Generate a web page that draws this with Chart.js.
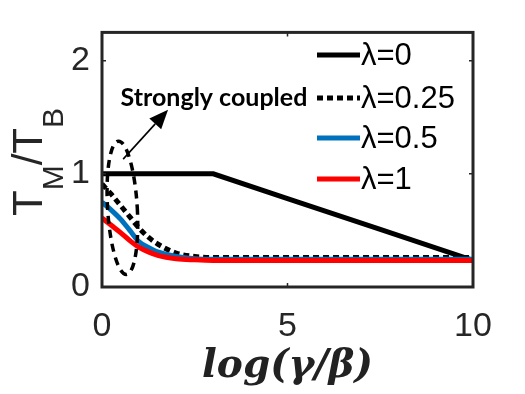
<!DOCTYPE html>
<html>
<head>
<meta charset="utf-8">
<script src="https://cdn.jsdelivr.net/npm/chart.js@4.4.0/dist/chart.umd.min.js"></script>
<style>
  html, body { margin: 0; padding: 0; background: #fff; }
  #wrap { width: 525px; height: 394px; }
</style>
</head>
<body>
<div id="wrap"><canvas id="chart" width="525" height="394"></canvas></div>
<script>
'use strict';

// data
const labels = ['\u03bb=0', '\u03bb=0.25', '\u03bb=0.5', '\u03bb=1'];
const xFlat = [0, 3, 5, 7.5, 10];
const yLam0 = [1, 1, 0.78, 0.51, 0.235];
const xCurve = [0, 0.25, 0.5, 0.75, 1, 1.25, 1.5, 2, 2.5, 3, 10];
const yLam025 = [0.91, 0.82, 0.72, 0.62, 0.52, 0.44, 0.38, 0.30, 0.27, 0.26, 0.26];
const yLam05 = [0.75, 0.68, 0.60, 0.50, 0.40, 0.35, 0.31, 0.27, 0.25, 0.245, 0.245];
const yLam1 = [0.61, 0.545, 0.48, 0.41, 0.35, 0.31, 0.28, 0.25, 0.24, 0.235, 0.235];
const xTicks = [0, 5, 10];
const yTicks = [0, 1, 2];

function pairs(xs, ys) {
  return xs.map((x, i) => ({x: x, y: ys[i]}));
}

const axisColor = '#262626';

// box, inner ticks, legend, note and y title
const extras = {
  id: 'extras',
  afterDatasetsDraw(chart) {
    const ctx = chart.ctx;
    const a = chart.chartArea;
    const xs = chart.scales.x;
    const ys = chart.scales.y;
    const px = v => xs.getPixelForValue(v);
    const py = v => ys.getPixelForValue(v);
    ctx.save();

    // dashed ellipse round the strong coupling region
    ctx.strokeStyle = '#000';
    ctx.lineWidth = 3.5;
    ctx.setLineDash([8, 6]);
    ctx.beginPath();
    ctx.ellipse(px(0.55), py(0.70), px(0.40) - px(0), py(0) - py(0.59), -0.06, 0, Math.PI * 2);
    ctx.stroke();
    ctx.setLineDash([]);

    // arrow
    const x1 = px(0.57), y1 = py(1.13), x2 = px(1.78), y2 = py(1.566);
    const ang = Math.atan2(y2 - y1, x2 - x1);
    const hl = 19, hw = 8;
    const bx = x2 - hl * Math.cos(ang), by = y2 - hl * Math.sin(ang);
    ctx.lineWidth = 1.6;
    ctx.beginPath();
    ctx.moveTo(x1, y1);
    ctx.lineTo(bx, by);
    ctx.stroke();
    ctx.fillStyle = '#000';
    ctx.beginPath();
    ctx.moveTo(x2, y2);
    ctx.lineTo(bx + hw * Math.sin(ang), by - hw * Math.cos(ang));
    ctx.lineTo(bx - hw * Math.sin(ang), by + hw * Math.cos(ang));
    ctx.closePath();
    ctx.fill();

    ctx.font = 'bold 25px Lato';
    ctx.textBaseline = 'alphabetic';
    ctx.textAlign = 'left';
    ctx.fillText('Strongly coupled', px(0.50), py(1.60));

    // legend
    ctx.font = '31px "Liberation Sans", Arial';
    ctx.textBaseline = 'middle';
    const rows = [55, 98, 138, 179];
    chart.data.datasets.forEach((ds, i) => {
      ctx.strokeStyle = ds.borderColor;
      ctx.lineWidth = 5;
      ctx.setLineDash(ds.borderDash || []);
      ctx.beginPath();
      ctx.moveTo(317, rows[i]);
      ctx.lineTo(360, rows[i]);
      ctx.stroke();
      ctx.setLineDash([]);
      ctx.fillStyle = '#000';
      ctx.fillText(ds.label, 361, rows[i] + 1);
    });

    // axes box with inward ticks
    ctx.strokeStyle = axisColor;
    ctx.lineWidth = 3;
    ctx.strokeRect(a.left, a.top, a.right - a.left, a.bottom - a.top);
    ctx.lineWidth = 1.5;
    ctx.beginPath();
    xTicks.forEach(v => {
      const x = px(v);
      ctx.moveTo(x, a.bottom); ctx.lineTo(x, a.bottom - 4);
      ctx.moveTo(x, a.top); ctx.lineTo(x, a.top + 4);
    });
    yTicks.forEach(v => {
      const y = py(v);
      ctx.moveTo(a.left, y); ctx.lineTo(a.left + 4, y);
      ctx.moveTo(a.right, y); ctx.lineTo(a.right - 4, y);
    });
    ctx.stroke();

    // y title T_M / T_B
    ctx.translate(42, 162);
    ctx.rotate(-Math.PI / 2);
    ctx.fillStyle = axisColor;
    ctx.textBaseline = 'alphabetic';
    const big = '42px "Liberation Sans", Arial';
    const small = '30px "Liberation Sans", Arial';
    const parts = [['T', big, 0], ['M', small, 21], ['/', big, 0], ['T', big, 0], ['B', small, 21]];
    let w = 0;
    parts.forEach(p => { ctx.font = p[1]; w += ctx.measureText(p[0]).width; });
    let cx = -w / 2;
    parts.forEach(p => {
      ctx.font = p[1];
      ctx.fillText(p[0], cx, p[2]);
      cx += ctx.measureText(p[0]).width;
    });
    ctx.restore();
  }
};

new Chart(document.getElementById('chart'), {
  type: 'line',
  data: {
    datasets: [
      {label: labels[0], data: pairs(xFlat, yLam0), borderColor: '#000000', borderWidth: 5, tension: 0, order: 4},
      {label: labels[1], data: pairs(xCurve, yLam025), borderColor: '#000000', borderWidth: 5, borderDash: [6, 4], cubicInterpolationMode: 'monotone', order: 3},
      {label: labels[2], data: pairs(xCurve, yLam05), borderColor: '#0072bd', borderWidth: 5, cubicInterpolationMode: 'monotone', order: 2},
      {label: labels[3], data: pairs(xCurve, yLam1), borderColor: '#ff0000', borderWidth: 5, cubicInterpolationMode: 'monotone', order: 1}
    ]
  },
  options: {
    responsive: false,
    animation: false,
    layout: {padding: {left: 0, top: 28, right: 52, bottom: 0}},
    elements: {point: {radius: 0}, line: {borderCapStyle: 'butt'}},
    plugins: {legend: {display: false}, tooltip: {enabled: false}},
    scales: {
      x: {
        type: 'linear', min: 0, max: 10,
        afterBuildTicks: s => { s.ticks = xTicks.map(v => ({value: v})); },
        afterFit: s => { s.height = 107; },
        grid: {display: false, drawTicks: false},
        border: {display: false},
        ticks: {color: axisColor, font: {family: '"Liberation Sans", Arial', size: 34}, padding: 19, maxRotation: 0},
        title: {display: true, text: 'log(\u03b3/\u03b2)', color: '#222', padding: {top: 0, bottom: 4},
          font: {family: '"DejaVu Serif"', size: 39, style: 'italic', weight: 'bold'}}
      },
      y: {
        min: 0, max: 2.25,
        afterBuildTicks: s => { s.ticks = yTicks.map(v => ({value: v})); },
        afterFit: s => { s.width = 102; },
        grid: {display: false, drawTicks: false},
        border: {display: false},
        ticks: {color: axisColor, font: {family: '"Liberation Sans", Arial', size: 34}, padding: 12}
      }
    }
  },
  plugins: [extras]
});
</script>
</body>
</html>
